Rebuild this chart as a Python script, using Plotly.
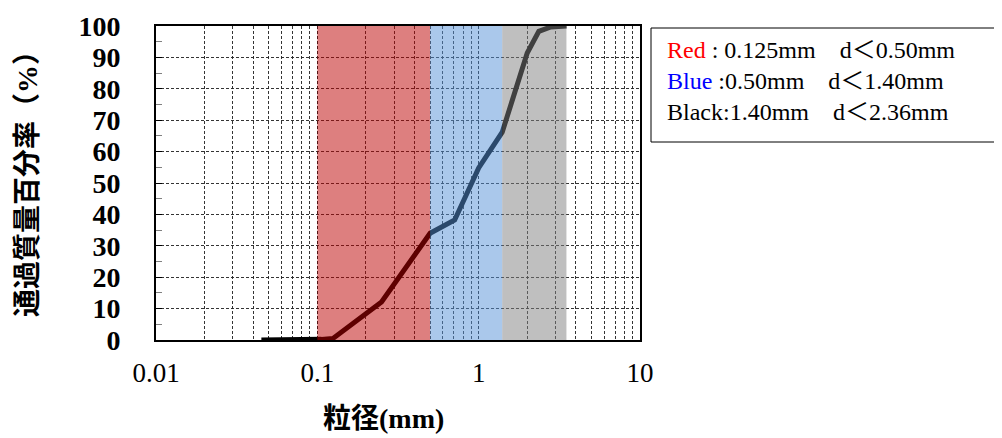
import plotly.graph_objects as go

# particle size (mm) and passing percentage (%)
sizes = [0.045, 0.075, 0.106, 0.125, 0.25, 0.5, 0.71, 1.0, 1.4, 2.0, 2.36, 2.8, 3.5]
passing = [0.0, 0.0, 0.2, 0.5, 12.1, 34.0, 38.2, 54.8, 66.2, 91.4, 98.3, 99.7, 100.0]

# shaded size bands (mm)
band_edges = [(0.1, 0.5), (0.5, 1.4), (1.4, 3.5)]
band_colors = ["rgb(188,0,0)", "rgb(85,145,215)", "rgb(128,128,128)"]

x_ticks = [0.01, 0.1, 1, 10]
x_tick_text = ["0.01", "0.1", "1", "10"]
y_ticks = list(range(0, 101, 10))

NB = "\u00a0" * 4
legend_lines = [
    ("Red", "red", f" : 0.125mm{NB}d\uff1c0.50mm"),
    ("Blue", "blue", f" :0.50mm{NB}d\uff1c1.40mm"),
    ("Black", "black", f":1.40mm{NB}d\uff1c2.36mm"),
]

# the page body adds an 8px offset; work in screenshot pixels and shift
OFF = 8
W, H = 1002, 438
L, R, T, B = 156 - OFF, 640 - OFF, 26 - OFF, 340 - OFF

def px(xp):
    return (xp - OFF - L) / (R - L)

def py(yp):
    return (B - (yp - OFF)) / (B - T)

fig = go.Figure()
fig.add_trace(go.Scatter(x=sizes, y=passing, mode="lines",
                         line=dict(color="black", width=5),
                         cliponaxis=False, showlegend=False))

for (x0, x1), c in zip(band_edges, band_colors):
    fig.add_shape(type="rect", xref="x", yref="y", x0=x0, x1=x1, y0=0, y1=100,
                  fillcolor=c, opacity=0.5, line=dict(width=0), layer="above")

serif = "Liberation Serif, Times New Roman, Noto Sans CJK JP, serif"
gdash = "3px,2px"
gcol = "rgba(30,30,30,0.9)"

fig.update_xaxes(type="log", range=[-2, 1], automargin=False,
                 tickvals=x_ticks, ticktext=x_tick_text,
                 tickfont=dict(family=serif, size=27, color="black"),
                 ticks="", ticklabelstandoff=8,
                 showgrid=True, gridcolor=gcol, griddash=gdash, gridwidth=1,
                 minor=dict(dtick="D1", showgrid=True, gridcolor=gcol,
                            griddash=gdash, gridwidth=1),
                 showline=True, linecolor="black", linewidth=2, mirror=True,
                 zeroline=False)
fig.update_yaxes(range=[0, 100], tickvals=y_ticks, automargin=False,
                 tickfont=dict(family=serif, size=28, color="black", weight="bold"),
                 ticks="inside", ticklen=6, tickcolor="black", ticklabelstandoff=28,
                 showgrid=True, gridcolor=gcol, griddash=gdash, gridwidth=1,
                 minor=dict(dtick=5, ticks="inside", ticklen=6, tickcolor="gray", showgrid=False),
                 showline=True, linecolor="black", linewidth=2, mirror=True,
                 zeroline=False)

# axis titles
fig.add_annotation(xref="paper", yref="paper", x=px(27), y=py(177),
                   text="<b>通過質量百分率（%）</b>", textangle=-90, showarrow=False,
                   font=dict(family=serif, size=28, color="black"),
                   xanchor="center", yanchor="middle")
fig.add_annotation(xref="paper", yref="paper", x=px(383), y=py(418),
                   text="<b>粒径(mm)</b>", showarrow=False,
                   font=dict(family=serif, size=28, color="black"),
                   xanchor="center", yanchor="middle")

# legend box
fig.add_shape(type="rect", xref="paper", yref="paper",
              x0=px(651), x1=px(1012), y0=py(142), y1=py(28),
              line=dict(color="black", width=1), fillcolor="white", layer="above")
for i, (word, col, rest) in enumerate(legend_lines):
    fig.add_annotation(xref="paper", yref="paper", x=px(665), y=py(50 + 31 * i),
                       text=f'<span style="color:{col}">{word}</span>{rest}',
                       showarrow=False, xanchor="left", yanchor="middle",
                       font=dict(family=serif, size=24, color="black"))

fig.update_layout(width=W, height=H, margin=dict(l=L, r=W - R, t=T, b=H - B),
                  plot_bgcolor="white", paper_bgcolor="white")

fig.write_html("out.html")
